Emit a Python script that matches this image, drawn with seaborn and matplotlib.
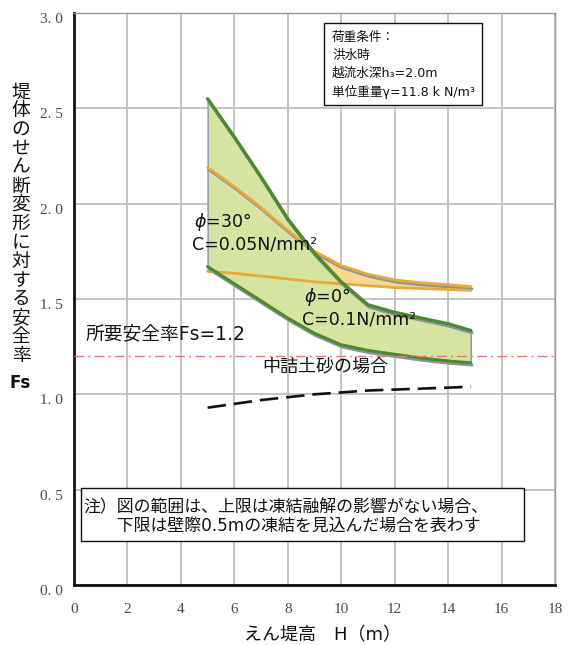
import numpy as np
import pandas as pd
import matplotlib
matplotlib.use("Agg")
import matplotlib.pyplot as plt
import matplotlib.patheffects as pe
from matplotlib.patches import Rectangle
import seaborn as sns

sns.set_style("white")
# DejaVu first for latin (wider, like the original gothic), CJK falls through
plt.rcParams['font.family'] = ['DejaVu Sans', 'Noto Sans CJK JP']
plt.rcParams['text.color'] = '#111111'

# ---------------------------------------------------------------
# data
# ---------------------------------------------------------------
H = [5, 6, 7, 8, 9, 10, 11, 12, 13, 14, 14.85]

# phi=0, C=0.1 N/mm2 band (green)
green_upper = [2.55, 2.35, 2.14, 1.92, 1.74, 1.59, 1.47, 1.43, 1.40, 1.37, 1.335]
green_lower = [1.67, 1.58, 1.49, 1.40, 1.32, 1.26, 1.23, 1.21, 1.19, 1.175, 1.165]

# phi=30, C=0.05 N/mm2 band (orange)
orange_upper = [2.19, 2.09, 1.98, 1.86, 1.75, 1.675, 1.63, 1.60, 1.585, 1.575, 1.565]
orange_lower = [1.645, 1.635, 1.62, 1.605, 1.59, 1.58, 1.57, 1.56, 1.555, 1.55, 1.545]

# 中詰土砂の場合 (dashed)
fill_soil = [0.93, 0.95, 0.97, 0.985, 1.0, 1.01, 1.02, 1.025, 1.03, 1.035, 1.04]

required_fs = 1.2

x_ticks = [0, 2, 4, 6, 8, 10, 12, 14, 16, 18]
y_ticks = [0.0, 0.5, 1.0, 1.5, 2.0, 2.5, 3.0]
y_tick_labels = ['0. 0', '0. 5', '1. 0', '1. 5', '2. 0', '2. 5', '3. 0']

ylabel_text = '堤体のせん断変形に対する安全率'
xlabel_text = 'えん堤高　H（m）'
cond_lines = ['荷重条件：', '洪水時', '越流水深h₃=2.0m', '単位重量γ=11.8 k N/m³']
note_lines = ['注）図の範囲は、上限は凍結融解の影響がない場合、',
              '　　下限は壁際0.5mの凍結を見込んだ場合を表わす']

df = pd.DataFrame({'H': H, 'gu': green_upper, 'gl': green_lower,
                   'ou': orange_upper, 'ol': orange_lower, 'soil': fill_soil})

# ---------------------------------------------------------------
# figure
# ---------------------------------------------------------------
fig = plt.figure(figsize=(5.75, 6.45), dpi=100)
ax = fig.add_axes([74 / 575, 1 - 585 / 645, 481 / 575, 572 / 645])

GREEN = '#4b8b2b'
GREEN_FILL = '#d6e4a2'
ORANGE = '#e9aa35'
ORANGE_FILL = '#f6d98c'
GRAY_EDGE = '#8d92a8'

shadow = [pe.SimpleLineShadow(offset=(0.8, -1.6), shadow_color=GRAY_EDGE, alpha=1.0), pe.Normal()]

ax.fill_between(df['H'], df['ol'], df['ou'], facecolor=ORANGE_FILL, edgecolor='none', zorder=2)
ax.fill_between(df['H'], df['gl'], df['gu'], facecolor=GREEN_FILL, edgecolor=GRAY_EDGE,
                linewidth=1.0, zorder=3)

sns.lineplot(data=df, x='H', y='ou', color=ORANGE, linewidth=2.0, ax=ax, zorder=4,
             path_effects=shadow)
sns.lineplot(data=df, x='H', y='ol', color=ORANGE, linewidth=2.0, ax=ax, zorder=4)
sns.lineplot(data=df, x='H', y='gu', color=GREEN, linewidth=2.4, ax=ax, zorder=5,
             path_effects=shadow)
sns.lineplot(data=df, x='H', y='gl', color=GREEN, linewidth=2.2, ax=ax, zorder=5,
             path_effects=shadow)
sns.lineplot(data=df, x='H', y='soil', color='#111111', linewidth=1.9, ax=ax, zorder=5,
             linestyle=(0, (7, 3)))

ax.axhline(required_fs, color='#e27878', linewidth=1.0, linestyle=(0, (7, 3, 1.5, 3)), zorder=6)

# axes styling
ax.set_xlim(0, 18)
ax.set_ylim(0, 3.0)
ax.set_xticks(x_ticks)
ax.set_yticks(y_ticks)
ax.set_yticklabels(y_tick_labels)
ax.grid(True, color='#bfbfbf', linewidth=1.3, zorder=0)
ax.set_axisbelow(True)
ax.set_xlabel('')
ax.set_ylabel('')
ax.tick_params(length=0, labelsize=11, colors='#4a4a4a')
ax.tick_params(axis='x', pad=13)
ax.tick_params(axis='y', pad=8)
for lbl in ax.get_xticklabels() + ax.get_yticklabels():
    lbl.set_fontfamily('Liberation Serif')
for lbl in ax.get_yticklabels():
    lbl.set_verticalalignment('top')
for side in ['left', 'bottom']:
    ax.spines[side].set_color('#111111')
    ax.spines[side].set_linewidth(2.0)
for side in ['top', 'right']:
    ax.spines[side].set_color('#999999')
    ax.spines[side].set_linewidth(1.0)

# annotations
ax.text(0.45, 1.32, '所要安全率Fs=1.2', fontsize=13.5, va='center', ha='left', zorder=7)
ax.text(7.05, 1.145, '中詰土砂の場合', fontsize=13, va='center', ha='left', zorder=7)
ax.text(4.5, 1.905, r'$\phi$=30°', fontsize=12.5, va='center', ha='left', zorder=7)
ax.text(4.4, 1.785, 'C=0.05N/mm²', fontsize=12.5, va='center', ha='left', zorder=7)
ax.text(8.62, 1.51, r'$\phi$=0°', fontsize=12.5, va='center', ha='left', zorder=7)
ax.text(8.55, 1.395, 'C=0.1N/mm²', fontsize=12.5, va='center', ha='left', zorder=7)

# load condition box (top right)
ax.add_patch(Rectangle(((324 - 74) / 481, (585 - 105) / 572), 158 / 481, 82 / 572,
                       transform=ax.transAxes, facecolor='white', edgecolor='#111111',
                       linewidth=1.0, zorder=8))
for i, line in enumerate(cond_lines):
    ax.text((332 - 74) / 481, (585 - 37 - 18.2 * i) / 572, line, transform=ax.transAxes,
            fontsize=9.1, va='center', ha='left', zorder=9)

# note box (bottom)
ax.add_patch(Rectangle(((81 - 74) / 481, (585 - 541) / 572), 443 / 481, 53 / 572,
                       transform=ax.transAxes, facecolor='white', edgecolor='#111111',
                       linewidth=1.0, zorder=8))
for i, line in enumerate(note_lines):
    ax.text((83 - 74) / 481, (585 - 507 - 18.5 * i) / 572, line, transform=ax.transAxes,
            fontsize=12.2, va='center', ha='left', zorder=9)

# vertical y label, one character per row
for i, ch in enumerate(ylabel_text):
    fig.text(21 / 575, 1 - (92 + 18.8 * i) / 645, ch, fontsize=13.5, ha='center', va='center')
fig.text(20 / 575, 1 - 383 / 645, 'Fs', fontsize=12, fontweight='bold', ha='center', va='center')

fig.text(322 / 575, 1 - 635 / 645, xlabel_text, fontsize=13, ha='center', va='center')

fig.savefig('out.png', dpi=100)
